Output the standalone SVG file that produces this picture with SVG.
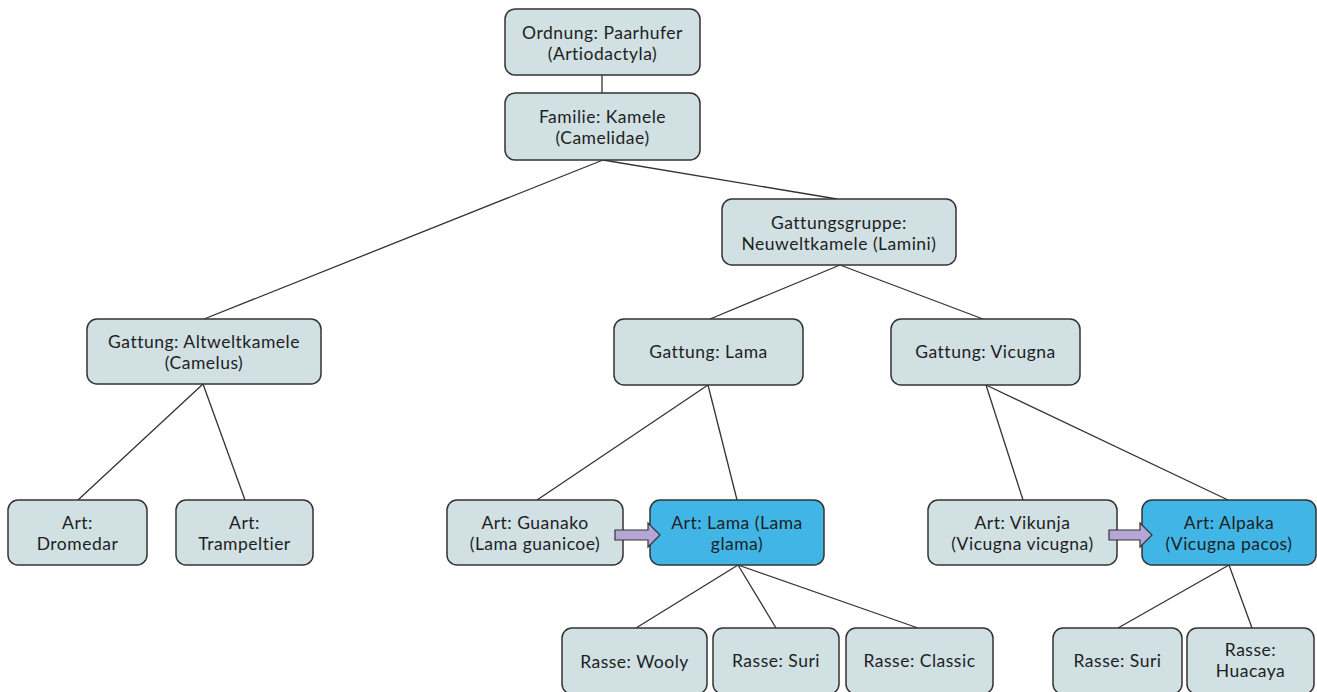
<svg xmlns="http://www.w3.org/2000/svg" width="1317" height="692" viewBox="0 0 1317 692">
<style>
  .box { fill: #d0e0e3; stroke: #333; stroke-width: 1.5; }
  .hl { fill: #41b6e6; stroke: #333; stroke-width: 1.5; }
  .lbl { font-family: Lato, "Liberation Sans", sans-serif; font-size: 17.5px; letter-spacing: 0.5px; fill: #1e1e1e; text-anchor: middle; }
  .edge { stroke: #333; stroke-width: 1.3; fill: none; }
  .arr { fill: #b4a7d6; stroke: #333; stroke-width: 1.2; stroke-linejoin: miter; }
</style>
<rect width="1317" height="692" fill="#ffffff"/>
<g id="connectors">
  <line class="edge" x1="602" y1="75" x2="602" y2="93"/>
  <line class="edge" x1="603" y1="160" x2="204" y2="319"/>
  <line class="edge" x1="603" y1="160" x2="837" y2="199"/>
  <line class="edge" x1="840" y1="265" x2="710" y2="319"/>
  <line class="edge" x1="840" y1="265" x2="983" y2="319"/>
  <line class="edge" x1="203" y1="384" x2="78" y2="500"/>
  <line class="edge" x1="203" y1="384" x2="245" y2="500"/>
  <line class="edge" x1="708" y1="385" x2="537" y2="500"/>
  <line class="edge" x1="708" y1="385" x2="737" y2="500"/>
  <line class="edge" x1="986" y1="385" x2="1023" y2="500"/>
  <line class="edge" x1="986" y1="385" x2="1228" y2="500"/>
  <line class="edge" x1="738" y1="565" x2="636" y2="628"/>
  <line class="edge" x1="738" y1="565" x2="776" y2="628"/>
  <line class="edge" x1="738" y1="565" x2="918" y2="628"/>
  <line class="edge" x1="1229" y1="565" x2="1118" y2="628"/>
  <line class="edge" x1="1229" y1="565" x2="1252" y2="628"/>
</g>
<g id="n-ordnung"><rect class="box" x="505" y="9" width="195" height="66" rx="10"/><text class="lbl" x="602.5" y="38.5">Ordnung: Paarhufer</text><text class="lbl" x="602.5" y="59.5">(Artiodactyla)</text></g>
<g id="n-familie"><rect class="box" x="505" y="93" width="195" height="67" rx="10"/><text class="lbl" x="602.5" y="123">Familie: Kamele</text><text class="lbl" x="602.5" y="144">(Camelidae)</text></g>
<g id="n-gattungsgruppe"><rect class="box" x="722" y="199" width="234" height="66" rx="10"/><text class="lbl" x="839" y="228.5">Gattungsgruppe:</text><text class="lbl" x="839" y="249.5">Neuweltkamele (Lamini)</text></g>
<g id="n-altwelt"><rect class="box" x="87" y="319" width="234" height="65" rx="10"/><text class="lbl" x="204" y="348">Gattung: Altweltkamele</text><text class="lbl" x="204" y="369">(Camelus)</text></g>
<g id="n-gattung-lama"><rect class="box" x="614" y="319" width="189" height="66" rx="10"/><text class="lbl" x="708.5" y="358">Gattung: Lama</text></g>
<g id="n-gattung-vicugna"><rect class="box" x="891" y="319" width="189" height="66" rx="10"/><text class="lbl" x="985.5" y="358">Gattung: Vicugna</text></g>
<g id="n-dromedar"><rect class="box" x="8" y="500" width="139" height="65" rx="10"/><text class="lbl" x="77.5" y="529">Art:</text><text class="lbl" x="77.5" y="550">Dromedar</text></g>
<g id="n-trampeltier"><rect class="box" x="176" y="500" width="137" height="65" rx="10"/><text class="lbl" x="244.5" y="529">Art:</text><text class="lbl" x="244.5" y="550">Trampeltier</text></g>
<g id="n-guanako"><rect class="box" x="447" y="500" width="176" height="65" rx="10"/><text class="lbl" x="535" y="529">Art: Guanako</text><text class="lbl" x="535" y="550">(Lama guanicoe)</text></g>
<g id="n-art-lama"><rect class="hl" x="650" y="500" width="174" height="65" rx="10"/><text class="lbl" x="737" y="529">Art: Lama (Lama</text><text class="lbl" x="737" y="550">glama)</text></g>
<g id="n-vikunja"><rect class="box" x="928" y="500" width="189" height="65" rx="10"/><text class="lbl" x="1022.5" y="529">Art: Vikunja</text><text class="lbl" x="1022.5" y="550">(Vicugna vicugna)</text></g>
<g id="n-alpaka"><rect class="hl" x="1142" y="500" width="174" height="65" rx="10"/><text class="lbl" x="1229" y="529">Art: Alpaka</text><text class="lbl" x="1229" y="550">(Vicugna pacos)</text></g>
<g id="n-wooly"><rect class="box" x="562" y="628" width="145" height="66" rx="10"/><text class="lbl" x="634.5" y="668">Rasse: Wooly</text></g>
<g id="n-suri1"><rect class="box" x="713" y="628" width="126" height="66" rx="10"/><text class="lbl" x="776" y="667">Rasse: Suri</text></g>
<g id="n-classic"><rect class="box" x="846" y="628" width="147" height="66" rx="10"/><text class="lbl" x="919.5" y="667">Rasse: Classic</text></g>
<g id="n-suri2"><rect class="box" x="1053" y="628" width="129" height="66" rx="10"/><text class="lbl" x="1117.5" y="667">Rasse: Suri</text></g>
<g id="n-huacaya"><rect class="box" x="1187" y="628" width="127" height="66" rx="10"/><text class="lbl" x="1250.5" y="655.5">Rasse:</text><text class="lbl" x="1250.5" y="676.5">Huacaya</text></g>
<g id="arrows">
  <path class="arr" d="M615,530 L648,530 L648,523 L660,535 L648,547 L648,540 L615,540 Z"/>
  <path class="arr" d="M1109,530 L1140,530 L1140,523 L1152,535 L1140,547 L1140,540 L1109,540 Z"/>
</g>
</svg>
